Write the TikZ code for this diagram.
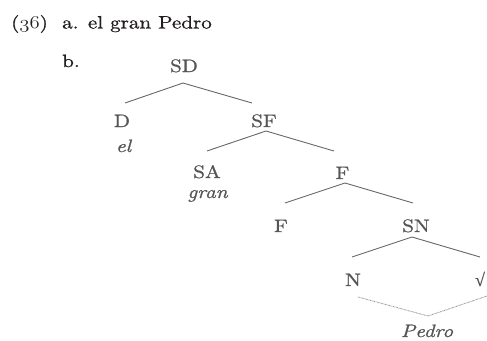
\documentclass[tikz,border=0pt]{standalone}
\usepackage{fontspec}
\usepackage{graphicx}
% a slightly heavier, wider cut of Latin Modern for the example
\newfontfamily\exfont{lmroman10-regular.otf}[
  ItalicFont=lmroman10-italic.otf,
  ItalicFeatures={FakeBold=0.9},
  FakeBold=0.8, FakeStretch=1.17]
\newfontfamily\rootfont{Liberation Serif}[FakeBold=0.6]
\newcommand{\osnum}[1]{\scalebox{1.2}[1.05]{\usefont{OML}{cmm}{m}{it}#1}}
\definecolor{ink}{HTML}{231F20}
\definecolor{treeink}{HTML}{555555}
\definecolor{branch}{HTML}{666666}
\definecolor{dots}{HTML}{8A8A8A}
\tikzset{
  main/.style={anchor=base west, inner sep=0pt, text=ink, font=\exfont\fontsize{18}{22}\selectfont},
  lab/.style={anchor=base, inner sep=0pt, text=treeink, font=\exfont\fontsize{18}{22}\selectfont},
  word/.style={lab, font=\exfont\fontsize{18}{22}\selectfont\itshape},
  branchline/.style={draw=branch, line width=0.9pt},
  dotline/.style={draw=dots, line width=0.8pt, dash pattern=on 0.7pt off 0.7pt}
}
\begin{document}
\begin{tikzpicture}[x=1pt, y=-1pt]
\useasboundingbox (0,0) rectangle (487,340);

% example number and the phrase
\node[main] (num) at (11,28.5) {(\osnum{36})};
\node[main] (ex-a) at (62,28.5) {a. el gran Pedro};
\node[main] (ex-b) at (62,67) {b.};

% tree labels
\node[lab] (SD) at (184,72) {SD};
\node[lab] (D) at (122,127) {D};
\node[word] (el) at (123.5,152) {el};
\node[lab] (SF) at (264,127) {SF};
\node[lab] (SA) at (207,178) {SA};
\node[word] (gran) at (207.5,198) {gran};
\node[lab] (F1) at (342.5,179) {F};
\node[lab] (F2) at (281,232) {F};
\node[lab] (SN) at (416,232) {SN};
\node[lab] (N) at (353,286) {N};
\node[lab, font=\rootfont\fontsize{18}{22}\selectfont] (root) at (480,286) {√};
\node[word] (Pedro) at (427,337) {Pedro};

% branch points
\coordinate (sd-apex) at (183,83);
\coordinate (d-end) at (125,103);
\coordinate (sf-end) at (252,103);
\coordinate (sf-apex) at (266,131);
\coordinate (sa-end) at (207,151);
\coordinate (f1-end) at (334,151);
\coordinate (f1-apex) at (345,183);
\coordinate (f2-end) at (285,203);
\coordinate (sn-end) at (413,203);
\coordinate (sn-apex) at (412,237);
\coordinate (n-end) at (352,257);
\coordinate (root-end) at (480,257);
\coordinate (n-dot) at (358,297);
\coordinate (pedro-apex) at (428,316);
\coordinate (root-dot) at (487,296);

% branches
\draw[branchline] (d-end) -- (sd-apex) -- (sf-end);
\draw[branchline] (sa-end) -- (sf-apex) -- (f1-end);
\draw[branchline] (f2-end) -- (f1-apex) -- (sn-end);
\draw[branchline] (n-end) -- (sn-apex) -- (root-end);
\draw[dotline] (n-dot) -- (pedro-apex) -- (root-dot);
\end{tikzpicture}
\end{document}
